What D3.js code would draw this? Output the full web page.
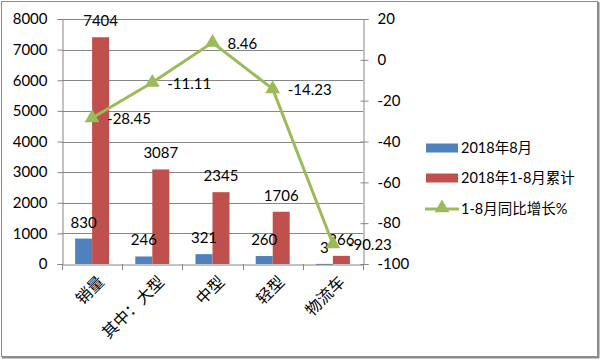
<!DOCTYPE html>
<html><head><meta charset="utf-8">
<script src="https://cdn.jsdelivr.net/npm/d3@7"></script>
<style>
body{margin:0;background:#fff;}
svg{display:block;}
text{font-family:Lato,"Noto Sans CJK SC",sans-serif;fill:#000;}
</style></head><body>
<svg id="c" width="600" height="359"></svg>
<script>
const categories = ["销量","其中：大型","中型","轻型","物流车"];
const aug2018 = [830, 246, 321, 260, 3];
const jan_aug2018 = [7404, 3087, 2345, 1706, 266];
const yoyGrowth = [-28.45, -11.11, 8.46, -14.23, -90.23];
const leftTicks = [0,1000,2000,3000,4000,5000,6000,7000,8000];
const rightTicks = [-100,-80,-60,-40,-20,0,20];
const seriesNames = ["2018年8月","2018年1-8月累计","1-8月同比增长%"];
const colors = ["#4F81BD","#C0504D","#9BBB59"];

const svg = d3.select("#c");
svg.append("rect").attr("x",1.5).attr("y",1.5).attr("width",596).attr("height",355)
  .attr("fill","#fff").attr("stroke","#8c8c8c").attr("stroke-width",1);
svg.append("line").attr("x1",598.5).attr("x2",598.5).attr("y1",2).attr("y2",358).attr("stroke","#8c8c8c").attr("stroke-width",2);
svg.append("line").attr("x1",2).attr("x2",599).attr("y1",357.5).attr("y2",357.5).attr("stroke","#8c8c8c").attr("stroke-width",2);

const L=62, R=363, T=19, B=264;
const x = d3.scaleBand().domain(categories).range([L,R]);
const yL = d3.scaleLinear().domain([0,8000]).range([B,T]);
const yR = d3.scaleLinear().domain([-100,20]).range([B,T]);
const barW = 17;
const hy = s => String(s).replace("\u2212","-");

// gridlines
svg.append("g").selectAll("line").data(leftTicks.slice(1)).join("line")
  .attr("x1",L).attr("x2",R).attr("y1",d=>Math.round(yL(d))+0.5).attr("y2",d=>Math.round(yL(d))+0.5)
  .attr("stroke","#868686").attr("stroke-width",1);

// left axis
const axL = svg.append("g").attr("transform",`translate(${L+0.5},0)`)
  .call(d3.axisLeft(yL).tickValues(leftTicks).tickSize(5).tickPadding(10).tickFormat(d=>String(d)));
axL.select(".domain").attr("stroke","#868686");
axL.selectAll(".tick line").attr("stroke","#868686");
axL.selectAll("text").style("font-size","15px").style("font-family","Lato");

// right axis
const axR = svg.append("g").attr("transform",`translate(${R+0.5},0)`)
  .call(d3.axisRight(yR).tickValues(rightTicks).tickSize(5).tickPadding(9).tickFormat(d=>String(d)));
axR.select(".domain").attr("stroke","#868686");
axR.selectAll(".tick line").attr("stroke","#868686").attr("x1",-3);
axR.selectAll("text").style("font-size","15px").style("font-family","Lato");

// bars
const g = svg.append("g");
g.selectAll(".b1").data(categories).join("rect")
  .attr("x",d=>x(d)+x.bandwidth()/2-barW).attr("width",barW)
  .attr("y",(d,i)=>yL(aug2018[i])).attr("height",(d,i)=>Math.max(1,B-yL(aug2018[i])))
  .attr("fill",colors[0]);
g.selectAll(".b2").data(categories).join("rect")
  .attr("x",d=>x(d)+x.bandwidth()/2).attr("width",barW)
  .attr("y",(d,i)=>yL(jan_aug2018[i])).attr("height",(d,i)=>B-yL(jan_aug2018[i]))
  .attr("fill",colors[1]);

// bottom axis
const axB = svg.append("g").attr("transform",`translate(0,${B+0.5})`)
  .call(d3.axisBottom(x).tickSize(0).tickFormat(""));
axB.select(".domain").attr("stroke","#868686");
const bounds = categories.map(d=>x(d)).concat([R]);
svg.append("g").selectAll("line").data(bounds).join("line")
  .attr("x1",d=>Math.round(d)+0.5).attr("x2",d=>Math.round(d)+0.5).attr("y1",B).attr("y2",B+6)
  .attr("stroke","#868686");

// category labels
svg.append("g").selectAll("text").data(categories).join("text")
  .attr("transform",d=>`translate(${x(d)+x.bandwidth()/2+9},${B+15}) rotate(-45)`)
  .attr("text-anchor","end").attr("dy","0.35em")
  .style("font-size","16px").style("font-family","'Noto Sans CJK SC'")
  .text(d=>d);

// bar labels
svg.append("g").selectAll("text").data(categories).join("text")
  .attr("x",d=>x(d)+x.bandwidth()/2-barW/2).attr("y",(d,i)=>yL(aug2018[i])-11)
  .attr("text-anchor","middle").style("font-size","15px").text((d,i)=>aug2018[i]);
svg.append("g").selectAll("text").data(categories).join("text")
  .attr("x",d=>x(d)+x.bandwidth()/2+barW/2).attr("y",(d,i)=>yL(jan_aug2018[i])-11)
  .attr("text-anchor","middle").style("font-size","15px").text((d,i)=>jan_aug2018[i]);

// line
const cx = d=>x(d)+x.bandwidth()/2;
const line = d3.line().x((d,i)=>cx(categories[i])).y(d=>yR(d));
svg.append("path").datum(yoyGrowth).attr("d",line).attr("fill","none")
  .attr("stroke",colors[2]).attr("stroke-width",3);
const tri = d3.symbol().type(d3.symbolTriangle).size(95);
svg.append("g").selectAll("path").data(yoyGrowth).join("path")
  .attr("d",tri).attr("transform",(d,i)=>`translate(${cx(categories[i])},${yR(d)})`)
  .attr("fill",colors[2]);
svg.append("g").selectAll("text").data(yoyGrowth).join("text")
  .attr("x",(d,i)=>cx(categories[i])+15).attr("y",d=>yR(d)).attr("dy","0.4em")
  .style("font-size","15px").text(d=>hy(d3.format(".2f")(d)));

// legend
const lg = svg.append("g");
const ly = [148,178,209];
lg.append("rect").attr("x",426).attr("y",ly[0]-4.5).attr("width",32).attr("height",9).attr("fill",colors[0]);
lg.append("rect").attr("x",426).attr("y",ly[1]-4.5).attr("width",32).attr("height",9).attr("fill",colors[1]);
lg.append("line").attr("x1",425).attr("x2",459).attr("y1",ly[2]).attr("y2",ly[2]).attr("stroke",colors[2]).attr("stroke-width",3);
lg.append("path").attr("d",tri).attr("transform",`translate(442,${ly[2]-1})`).attr("fill",colors[2]);
lg.selectAll("text").data(seriesNames).join("text")
  .attr("x",461).attr("y",(d,i)=>ly[i]).attr("dy","0.36em")
  .style("font-size","14.5px").text(d=>d);
</script>
</body></html>
